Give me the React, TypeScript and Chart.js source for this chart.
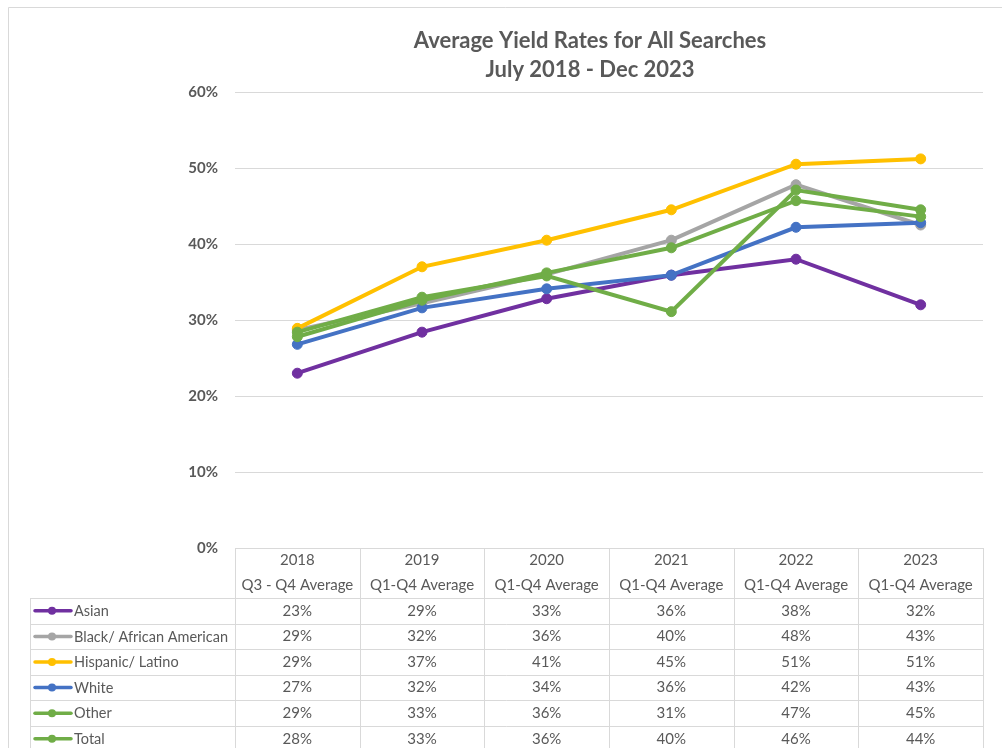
import React, { useEffect, useRef } from "react";
import { Chart, registerables } from "chart.js";

Chart.register(...registerables);

const TITLE_LINES = ["Average Yield Rates for All Searches", "July 2018 - Dec 2023"];
const YEARS = ["2018", "2019", "2020", "2021", "2022", "2023"];
const PERIODS = ["Q3 - Q4 Average", "Q1-Q4 Average", "Q1-Q4 Average", "Q1-Q4 Average", "Q1-Q4 Average", "Q1-Q4 Average"];
const SERIES_NAMES = ["Asian", "Black/ African American", "Hispanic/ Latino", "White", "Other", "Total"];
const SERIES_COLORS = ["#7030A0", "#A5A5A5", "#FFC000", "#4472C4", "#70AD47", "#70AD47"];

// plotted values (fractions)
const ASIAN = [0.23, 0.284, 0.328, 0.359, 0.38, 0.32];
const BLACK = [0.287, 0.322, 0.36, 0.405, 0.478, 0.425];
const HISPANIC = [0.289, 0.37, 0.405, 0.445, 0.505, 0.512];
const WHITE = [0.268, 0.316, 0.341, 0.359, 0.422, 0.428];
const OTHER = [0.284, 0.33, 0.358, 0.311, 0.471, 0.445];
const TOTAL = [0.278, 0.326, 0.362, 0.395, 0.457, 0.436];

// table labels as printed
const ASIAN_LABELS = ["23%", "29%", "33%", "36%", "38%", "32%"];
const BLACK_LABELS = ["29%", "32%", "36%", "40%", "48%", "43%"];
const HISPANIC_LABELS = ["29%", "37%", "41%", "45%", "51%", "51%"];
const WHITE_LABELS = ["27%", "32%", "34%", "36%", "42%", "43%"];
const OTHER_LABELS = ["29%", "33%", "36%", "31%", "47%", "45%"];
const TOTAL_LABELS = ["28%", "33%", "36%", "40%", "46%", "44%"];

const SERIES_VALUES = [ASIAN, BLACK, HISPANIC, WHITE, OTHER, TOTAL];
const SERIES_LABELS = [ASIAN_LABELS, BLACK_LABELS, HISPANIC_LABELS, WHITE_LABELS, OTHER_LABELS, TOTAL_LABELS];

const FONT = "Lato, 'Open Sans', sans-serif";
const TEXT = "#595959";
const GRID = "#D9D9D9";

const framePlugin = {
  id: "frameTitle",
  beforeDraw(chart: any) {
    const ctx = chart.ctx;
    ctx.save();
    ctx.fillStyle = "#ffffff";
    ctx.fillRect(0, 0, chart.width, chart.height);
    ctx.strokeStyle = GRID;
    ctx.lineWidth = 1;
    ctx.beginPath();
    ctx.moveTo(8.5, chart.height + 5);
    ctx.lineTo(8.5, 7.5);
    ctx.lineTo(chart.width + 5, 7.5);
    ctx.stroke();
    ctx.fillStyle = TEXT;
    ctx.font = `bold 22px ${FONT}`;
    ctx.textAlign = "center";
    ctx.textBaseline = "middle";
    ctx.fillText(TITLE_LINES[0], 590, 41);
    ctx.fillText(TITLE_LINES[1], 590, 70);
    ctx.restore();
  },
};

const tablePlugin = {
  id: "dataTable",
  afterDraw(chart: any) {
    const ctx = chart.ctx;
    const xs = chart.scales.x;
    const area = chart.chartArea;
    const n = YEARS.length;
    const colW = (area.right - area.left) / n;
    const top = area.bottom;
    const headerH = 50;
    const rowH = 25.6;
    const legendLeft = 30.5;
    const bottom = top + headerH + rowH * SERIES_NAMES.length;

    ctx.save();
    ctx.strokeStyle = GRID;
    ctx.lineWidth = 1;
    ctx.beginPath();
    ctx.moveTo(area.left, Math.round(top) + 0.5);
    ctx.lineTo(area.right, Math.round(top) + 0.5);
    for (let r = 0; r <= SERIES_NAMES.length; r++) {
      const y = Math.round(top + headerH + r * rowH) + 0.5;
      ctx.moveTo(legendLeft, y);
      ctx.lineTo(area.right, y);
    }
    for (let i = 0; i < n; i++) {
      const c = xs.getPixelForValue(i);
      const l = Math.round(c - colW / 2) + 0.5;
      ctx.moveTo(l, top);
      ctx.lineTo(l, bottom + 10);
    }
    const rr = Math.round(xs.getPixelForValue(n - 1) + colW / 2) + 0.5;
    ctx.moveTo(rr, top);
    ctx.lineTo(rr, bottom + 10);
    ctx.moveTo(legendLeft, top + headerH);
    ctx.lineTo(legendLeft, bottom + 10);
    ctx.stroke();

    ctx.fillStyle = TEXT;
    ctx.font = `15px ${FONT}`;
    ctx.textAlign = "center";
    ctx.textBaseline = "middle";
    for (let i = 0; i < n; i++) {
      const c = xs.getPixelForValue(i);
      ctx.fillText(YEARS[i], c, top + 12.5);
      ctx.fillText(PERIODS[i], c, top + 37.5);
      for (let s = 0; s < SERIES_NAMES.length; s++) {
        ctx.fillText(SERIES_LABELS[s][i], c, top + headerH + s * rowH + rowH / 2);
      }
    }
    ctx.textAlign = "left";
    ctx.font = `14.5px ${FONT}`;
    for (let s = 0; s < SERIES_NAMES.length; s++) {
      const y = top + headerH + s * rowH + rowH / 2;
      ctx.strokeStyle = SERIES_COLORS[s];
      ctx.lineWidth = 3.5;
      ctx.lineCap = "round";
      ctx.beginPath();
      ctx.moveTo(35, y);
      ctx.lineTo(71, y);
      ctx.stroke();
      ctx.fillStyle = SERIES_COLORS[s];
      ctx.beginPath();
      ctx.arc(52, y, 4, 0, Math.PI * 2);
      ctx.fill();
      ctx.fillStyle = TEXT;
      ctx.fillText(SERIES_NAMES[s], 74, y + 0.5);
    }
    ctx.restore();
  },
};

export default function App() {
  const canvasRef = useRef<HTMLCanvasElement | null>(null);

  useEffect(() => {
    let chart: Chart | null = null;
    let cancelled = false;
    const make = () => {
      if (cancelled || !canvasRef.current) return;
      chart = new Chart(canvasRef.current, {
        type: "line",
        data: {
          labels: YEARS,
          datasets: SERIES_NAMES.map((name, i) => ({
            label: name,
            data: SERIES_VALUES[i],
            borderColor: SERIES_COLORS[i],
            backgroundColor: SERIES_COLORS[i],
            pointBackgroundColor: SERIES_COLORS[i],
            pointBorderColor: SERIES_COLORS[i],
            borderWidth: 4,
            pointRadius: 5,
            pointBorderWidth: 1,
            tension: 0,
            fill: false,
            order: SERIES_NAMES.length - i,
          })),
        },
        options: {
          responsive: false,
          animation: false,
          layout: { padding: { left: 0, right: 19, top: 92, bottom: 200 } },
          plugins: {
            legend: { display: false },
            tooltip: { enabled: false },
            title: { display: false },
          },
          scales: {
            x: { display: false, offset: true },
            y: {
              min: 0,
              max: 0.6,
              afterFit: (scale: any) => {
                scale.width = 235;
              },
              border: { display: false },
              grid: { color: GRID, lineWidth: 1, drawTicks: false },
              ticks: {
                stepSize: 0.1,
                padding: 17,
                color: TEXT,
                font: { family: FONT, size: 15, weight: "bold" },
                callback: (v: any) => `${Math.round(Number(v) * 100)}%`,
              },
            },
          },
        },
        plugins: [framePlugin, tablePlugin],
      });
    };
    const fontsApi = (document as any).fonts;
    if (fontsApi && fontsApi.load) {
      Promise.all([
        fontsApi.load(`15px Lato`),
        fontsApi.load(`bold 22px Lato`),
      ]).then(make, make);
    } else {
      make();
    }
    return () => {
      cancelled = true;
      if (chart) chart.destroy();
    };
  }, []);

  return (
    <div style={{ position: "fixed", left: 0, top: 0, width: 1002, height: 748, background: "#fff" }}>
      <canvas ref={canvasRef} width={1002} height={748} style={{ display: "block" }} />
    </div>
  );
}
